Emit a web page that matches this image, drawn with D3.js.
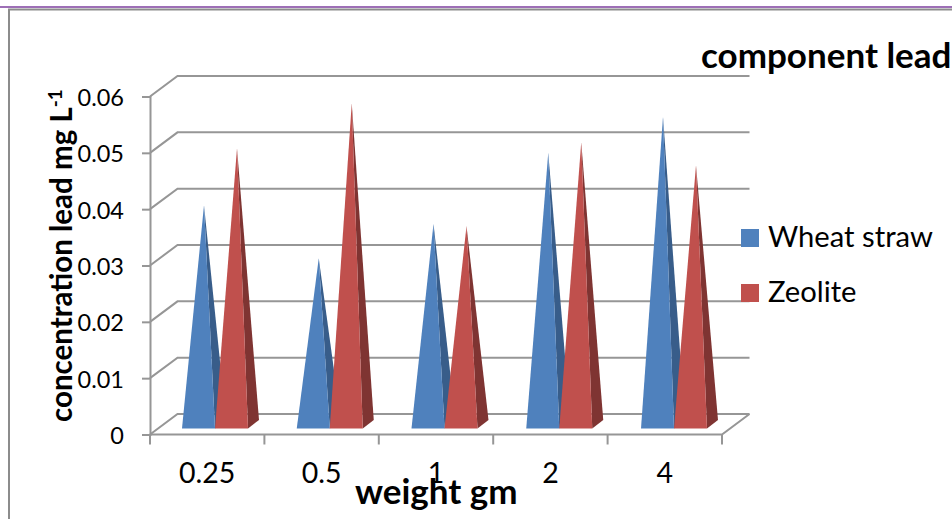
<!DOCTYPE html>
<html><head><meta charset="utf-8">
<script src="https://cdn.jsdelivr.net/npm/d3@7"></script>
<style>html,body{margin:0;padding:0;background:#fff}svg{display:block}text{font-family:Lato,"Open Sans",sans-serif;fill:#000}</style>
</head><body><svg id="c" width="952" height="519"></svg>
<script>
const categories = ["0.25","0.5","1","2","4"];
const seriesNames = ["Wheat straw","Zeolite"];
const wheatStraw = [0.0399,0.0305,0.0366,0.0492,0.0556];
const zeolite = [0.05,0.058,0.0362,0.0511,0.047];
const yTicks = [0,0.01,0.02,0.03,0.04,0.05,0.06];
const yTickLabels = ["0","0.01","0.02","0.03","0.04","0.05","0.06"];
const frontColors = ["#4f81bd","#c0504d"];
const sideColors = ["#385d8a","#7f3432"];
const depth = {x:27.5,y:-20.5};
const gridColor = "#969696";

const svg = d3.select("#c");
const x = d3.scaleBand().domain(categories).range([150,722]);
const xCone = d3.scaleBand().domain(categories).range([182,755.75]);
const y = d3.scaleLinear().domain([0,0.06]).range([434.5,96.5]);

svg.append("line").attr("x1",0).attr("x2",952).attr("y1",7).attr("y2",7).attr("stroke","#7c3f9e").attr("stroke-width",1.6);
svg.append("path").attr("d","M9,519V9.5H952").attr("fill","none").attr("stroke","#8c8c8c").attr("stroke-width",2);

// walls
const grid = svg.append("g").attr("fill","none").attr("stroke",gridColor).attr("stroke-width",2);
yTicks.forEach(t=>{
  grid.append("path").attr("d",`M${x.range()[0]},${y(t)}l${depth.x},${depth.y}H${x.range()[1]+depth.x}`);
});
grid.append("path").attr("d",`M${x.range()[0]},${y(0)}H${x.range()[1]}l${depth.x},${depth.y}`);

// axes
const ay = d3.axisLeft(y).tickValues(yTicks).tickFormat((d,i)=>yTickLabels[i]).tickSize(8).tickPadding(18);
const gy = svg.append("g").attr("transform","translate(150,0)").call(ay);
const ax = d3.axisBottom(x).tickSize(0).tickPadding(28);
const gx = svg.append("g").attr("transform",`translate(0,${y(0)})`).call(ax);
gx.select(".domain").remove();
const tickX = x.domain().map(d=>x(d)).concat(x.range()[1]);
tickX.forEach(v=>gx.append("line").attr("x1",v).attr("x2",v).attr("y1",0).attr("y2",10).attr("stroke",gridColor).attr("stroke-width",2));
gy.selectAll("text").attr("font-size",23.5).attr("font-family","Lato").attr("fill","#000").attr("dy","0.38em");
gx.selectAll("text").attr("font-size",28.5).attr("font-family","Lato").attr("fill","#000");
gy.selectAll("line,path").attr("stroke",gridColor).attr("stroke-width",2);

// cones
const coneW = 33, sideDx = 11, sideDy = -8.5, baseGap = 6, apexBase = 4.5, apexShift = 5.5;
const series = [wheatStraw, zeolite];
const cones = svg.append("g");
categories.forEach((c,i)=>{
  series.forEach((vals,s)=>{
    const x0 = xCone(c)+s*coneW;
    const by = y(0)-baseGap;
    const ax_ = x0+coneW/2+apexShift;
    const ay_ = y(vals[i])-apexBase;
    cones.append("polygon").attr("points",[[x0+coneW,by],[x0+coneW+sideDx,by+sideDy],[ax_,ay_]].join(" ")).attr("fill",sideColors[s]);
    cones.append("polygon").attr("points",[[x0,by],[x0+coneW,by],[ax_,ay_]].join(" ")).attr("fill",frontColors[s]);
  });
});

// legend
const legendY = [229,284];
seriesNames.forEach((n,i)=>{
  svg.append("rect").attr("x",741).attr("y",legendY[i]).attr("width",18).attr("height",18).attr("fill",frontColors[i]);
  svg.append("text").attr("x",768).attr("y",legendY[i]+18).attr("font-size",29.2).text(n);
});

// titles
svg.append("text").attr("x",701).attr("y",68).attr("font-size",35).attr("font-weight",700).text("component lead");
svg.append("text").attr("x",355).attr("y",504).attr("font-size",35).attr("font-weight",700).text("weight gm");
const yt = svg.append("text").attr("transform","translate(72,422) rotate(-90)").attr("font-size",29.5).attr("font-weight",700);
yt.append("tspan").text("concentration lead mg L");
yt.append("tspan").attr("dy",-10).attr("font-size",19).text("-1");
</script></body></html>
